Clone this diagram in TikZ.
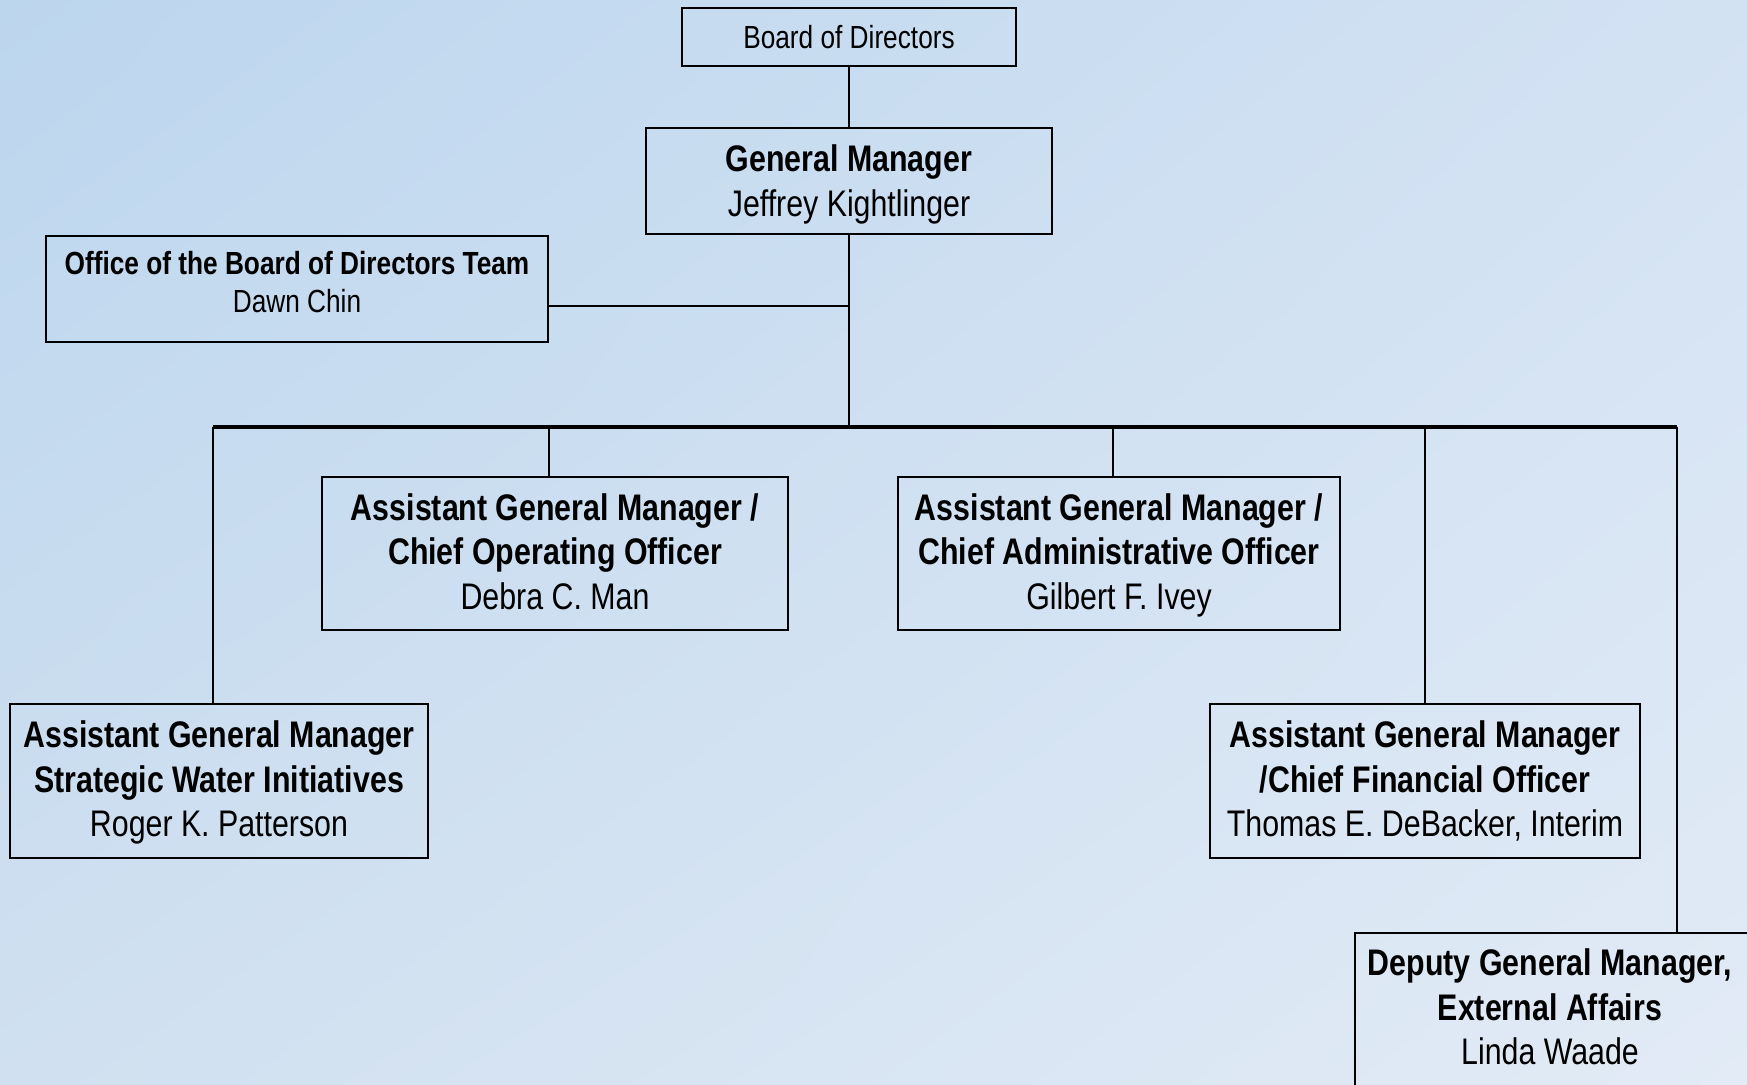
\documentclass[tikz,border=0pt]{standalone}
\usepackage{fontspec}
\setmainfont{Liberation Sans}[FakeStretch=0.82]
\usetikzlibrary{shadings}
\definecolor{bgA}{HTML}{BCD6EE}
\definecolor{bgB}{HTML}{D3E2F3}
\definecolor{bgC}{HTML}{D0E0F0}
\definecolor{bgD}{HTML}{E2EBF6}
\begin{document}
\begin{tikzpicture}[x=1pt,y=-1pt,
  box/.style={draw=black, line width=2.5pt, rectangle, inner sep=0pt, align=center, text=black},
  bigtxt/.style={font=\fontsize{37}{44.6}\selectfont, text depth=4.5pt},
  smalltxt/.style={font=\fontsize{32}{38}\selectfont},
  conn/.style={draw=black, line width=2.5pt},
  busline/.style={draw=black, line width=3.5pt}]
\shade[upper left=bgA, upper right=bgB, lower left=bgC, lower right=bgD] (0,0) rectangle (1747,1084);
\useasboundingbox (0,0) rectangle (1747,1084);
\clip (0,0) rectangle (1747,1084);

\node[box, smalltxt, minimum width=334pt, minimum height=58pt] (board) at (849,37) {Board of Directors};
\node[box, minimum width=406pt, minimum height=106pt] (gm) at (849,181) {};
\node[font=\fontsize{37}{45.7}\selectfont, align=center, inner sep=0pt] (gmt) at (849,184.5) {\textbf{General Manager}\\Jeffrey Kightlinger};
\node[box, minimum width=502pt, minimum height=106pt] (office) at (297,289) {};
\node[smalltxt, align=center, inner sep=0pt] (officet) at (297,282) {\textbf{Office of the Board of Directors Team}\\Dawn Chin};
\node[box, bigtxt, minimum width=466pt, minimum height=153pt] (coo) at (555,553.5) {\textbf{Assistant General Manager /}\\\textbf{Chief Operating Officer}\\Debra C. Man};
\node[box, bigtxt, minimum width=442pt, minimum height=153pt] (cao) at (1119,553.5) {\textbf{Assistant General Manager /}\\\textbf{Chief Administrative Officer}\\Gilbert F. Ivey};
\node[box, bigtxt, minimum width=418pt, minimum height=154pt] (swi) at (219,781) {\textbf{Assistant General Manager}\\\textbf{Strategic Water Initiatives}\\Roger K. Patterson};
\node[box, bigtxt, minimum width=430pt, minimum height=154pt] (cfo) at (1425,781) {\textbf{Assistant General Manager}\\\textbf{/Chief Financial Officer}\\Thomas E. DeBacker, Interim};
\node[box, minimum width=420pt, minimum height=190pt] (dgm) at (1565,1028) {};
\node[font=\fontsize{37}{44.6}\selectfont, align=center, inner sep=0pt] (dgmt) at (1550,1007) {\textbf{Deputy General Manager,}\\\textbf{External Affairs}\\Linda Waade};

\coordinate (hub) at (849,427);
\coordinate (busL) at (213,427);
\coordinate (busR) at (1677,427);
\coordinate (offj) at (849,306);
\coordinate (dcoo) at (549,427);
\coordinate (dcao) at (1113,427);
\coordinate (dcfo) at (1425,427);

\draw[conn] (board.south) -- (gm.north);
\draw[conn] (gm.south) -- (hub);
\draw[conn] (office.east |- offj) -- (offj);
\draw[busline] (busL) -- (busR);
\draw[conn] (dcoo) -- (dcoo |- coo.north);
\draw[conn] (dcao) -- (dcao |- cao.north);
\draw[conn] (busL) -- (busL |- swi.north);
\draw[conn] (dcfo) -- (cfo.north);
\draw[conn] (busR) -- (busR |- dgm.north);
\end{tikzpicture}
\end{document}
